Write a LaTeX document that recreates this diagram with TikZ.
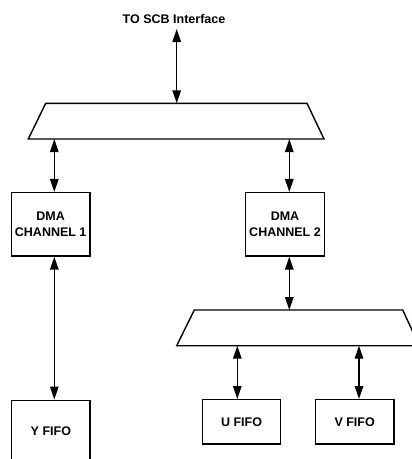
\documentclass[tikz,border=0pt]{standalone}
\usepackage{fontspec}
\setmainfont{Liberation Sans}
\usetikzlibrary{arrows.meta}
\tikzset{
	lbl/.style={font=\bfseries\fontsize{12.5}{16}\selectfont, align=center},
	box/.style={lbl, draw, line width=1.4pt, inner sep=0pt, minimum width=78.5pt},
	bus/.style={draw, line width=1.4pt, line join=miter},
	link/.style={{Triangle[length=13pt,width=8.5pt]}-{Triangle[length=13pt,width=8.5pt]}, line width=1.4pt}
}

\begin{document}
\begin{tikzpicture}[x=1pt,y=-1pt]
		\clip (0,0) rectangle (412,459);
		% top bus
		\node[lbl] (scb) at (174,18.7) {TO SCB Interface};
		\coordinate (scbend) at (176.7,29);
		\draw[bus] (45.7,103.3) coordinate (bus1top) -- (307,103.3) -- (324,139) -- (28.3,139) coordinate (bus1bot) -- cycle;
		\draw[link] (scbend) -- (scbend |- bus1top);
		% channels
		\node[box, minimum height=63.3pt] (dma1) at (50.7,224.3) {DMA\\CHANNEL 1};
		\node[box, minimum height=63.3pt] (dma2) at (285,224.3) {DMA\\CHANNEL 2};
		\draw[link] ([xshift=3.6pt]dma1.north |- bus1bot) -- ([xshift=3.6pt]dma1.north);
		\draw[link] ([xshift=4.3pt]dma2.north |- bus1bot) -- ([xshift=4.3pt]dma2.north);
		% fifos
		\node[box, minimum height=61pt] (yfifo) at (50.85,430.7) {Y FIFO};
		\draw[link] ([xshift=3.6pt]dma1.south) -- ([xshift=3.6pt]dma1.south |- yfifo.north);
		\draw[bus] (194.3,310) coordinate (bus2top) -- (402.7,310) -- (419.3,345.7) -- (176.7,345.7) coordinate (bus2bot) -- cycle;
		\draw[link] ([xshift=4.3pt]dma2.south) -- ([xshift=4.3pt]dma2.south |- bus2top);
		\node[box, minimum height=44.3pt] (ufifo) at (241.5,421.85) {U FIFO};
		\node[box, minimum height=44.3pt] (vfifo) at (354.65,421.85) {V FIFO};
		\draw[link] ([xshift=-4.2pt]ufifo.north |- bus2bot) -- ([xshift=-4.2pt]ufifo.north);
		\draw[link] ([xshift=4.35pt]vfifo.north |- bus2bot) -- ([xshift=4.35pt]vfifo.north);
\end{tikzpicture}
\end{document}
